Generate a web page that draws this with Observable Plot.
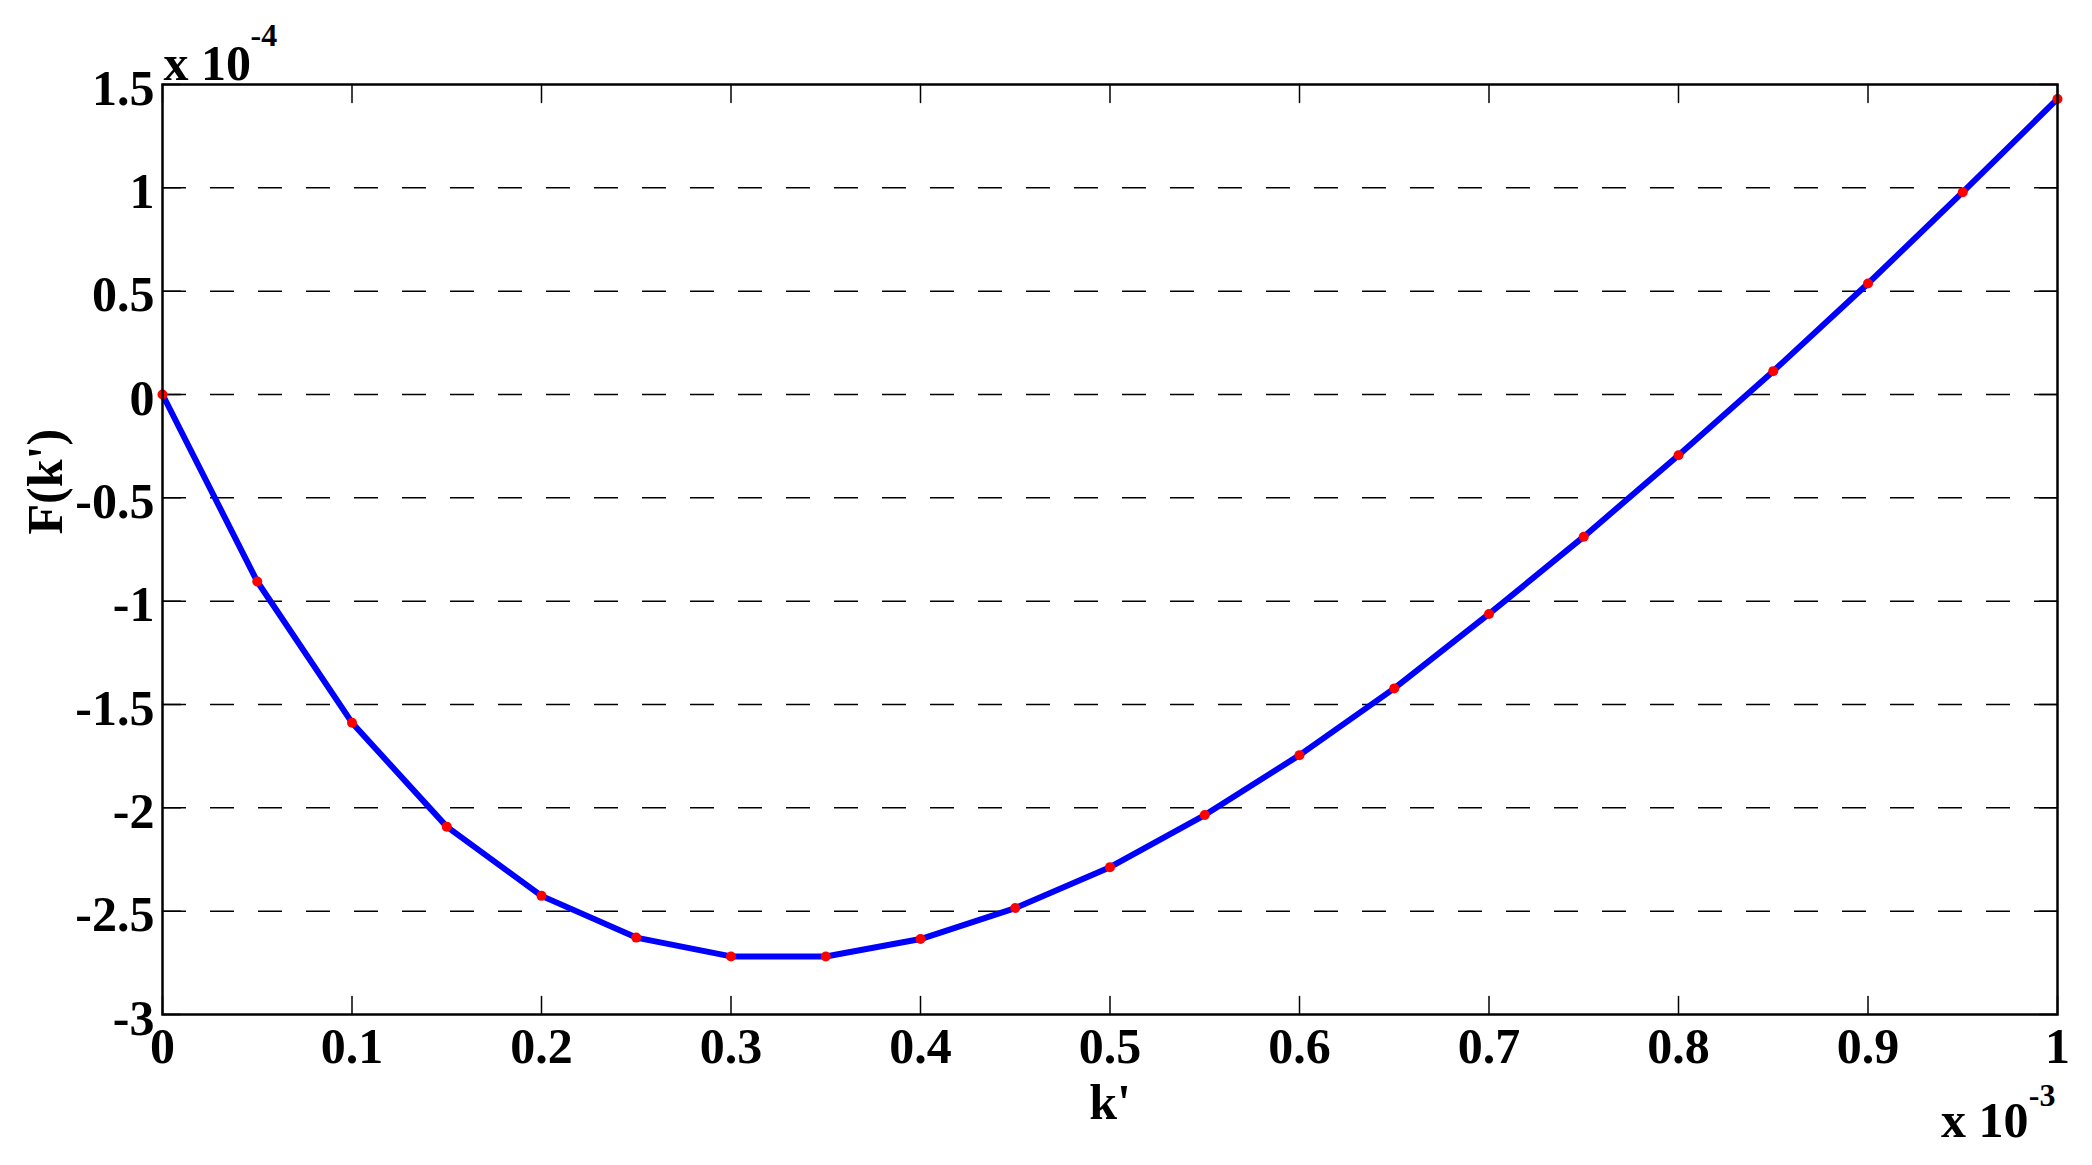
<!DOCTYPE html>
<html>
<head>
<meta charset="utf-8">
<script src="https://cdn.jsdelivr.net/npm/d3@7"></script>
<script src="https://cdn.jsdelivr.net/npm/@observablehq/plot@0.6"></script>
<style>
  html, body { margin: 0; padding: 0; background: #fff; }
</style>
</head>
<body>
<div id="chart"></div>
<script>
// k' values (x 10^-3)
const kValues = [0, 0.05, 0.1, 0.15, 0.2, 0.25, 0.3, 0.35, 0.4, 0.45, 0.5, 0.55, 0.6, 0.65, 0.7, 0.75, 0.8, 0.85, 0.9, 0.95, 1.0];
// F(k') values (x 10^-4)
const fValues = [0, -0.905, -1.588, -2.091, -2.426, -2.628, -2.719, -2.719, -2.635, -2.485, -2.287, -2.035, -1.745, -1.422, -1.062, -0.688, -0.294, 0.113, 0.537, 0.979, 1.430];
const xTicks = [0, 0.1, 0.2, 0.3, 0.4, 0.5, 0.6, 0.7, 0.8, 0.9, 1];
const yTicks = [-3, -2.5, -2, -1.5, -1, -0.5, 0, 0.5, 1, 1.5];
const gridY = [-2.5, -2, -1.5, -1, -0.5, 0, 0.5, 1];

const data = kValues.map((k, i) => ({k, f: fValues[i]}));
const fmt = d => String(+d.toFixed(1));
const tickShape = {draw(context, l) { context.moveTo(0, 0); context.lineTo(0, -l); }};
const tickOpts = {length: 18, anchor: "start", shape: tickShape, stroke: "black", strokeWidth: 1.5};

const chart = Plot.plot({
  width: 2092,
  height: 1165,
  marginLeft: 162,
  marginRight: 35,
  marginTop: 84,
  marginBottom: 151,
  style: {fontFamily: "'Liberation Serif', 'DejaVu Serif', serif", fontSize: "50px", fontWeight: "bold", background: "white", color: "black"},
  x: {domain: [0, 1]},
  y: {domain: [-3, 1.5]},
  marks: [
    Plot.ruleY(gridY, {stroke: "black", strokeWidth: 1.5, strokeDasharray: "24,24"}),
    Plot.axisX(xTicks, {tickSize: 0, tickPadding: 13, tickFormat: fmt, label: null}),
    Plot.axisY(yTicks, {tickSize: 0, tickPadding: 8, tickFormat: fmt, label: null, dy: 4}),
    Plot.vector(xTicks, {x: d => d, frameAnchor: "bottom", rotate: 0, ...tickOpts}),
    Plot.vector(xTicks, {x: d => d, frameAnchor: "top", rotate: 180, ...tickOpts}),
    Plot.vector(yTicks, {y: d => d, frameAnchor: "left", rotate: 90, ...tickOpts}),
    Plot.vector(yTicks, {y: d => d, frameAnchor: "right", rotate: -90, ...tickOpts}),
    Plot.line(data, {x: "k", y: "f", stroke: "#0000ff", strokeWidth: 6}),
    Plot.dot(data, {x: "k", y: "f", r: 5, fill: "#ff0000"}),
    Plot.frame({stroke: "black", strokeWidth: 2.5}),
    Plot.text(["k'"], {frameAnchor: "bottom", dy: 104, lineAnchor: "bottom"}),
    Plot.text(["F(k')"], {frameAnchor: "left", rotate: -90, dx: -117, dy: -15, lineAnchor: "middle"}),
    Plot.text(["x 10"], {frameAnchor: "top-left", textAnchor: "start", lineAnchor: "bottom", dx: 1, dy: -5}),
    Plot.text(["-4"], {frameAnchor: "top-left", textAnchor: "start", lineAnchor: "bottom", dx: 88, dy: -39, fontSize: 32}),
    Plot.text(["x 10"], {frameAnchor: "bottom-right", textAnchor: "end", lineAnchor: "bottom", dx: -29, dy: 122}),
    Plot.text(["-3"], {frameAnchor: "bottom-right", textAnchor: "end", lineAnchor: "bottom", dx: -2, dy: 91, fontSize: 32})
  ]
});
document.getElementById("chart").appendChild(chart);
</script>
</body>
</html>
